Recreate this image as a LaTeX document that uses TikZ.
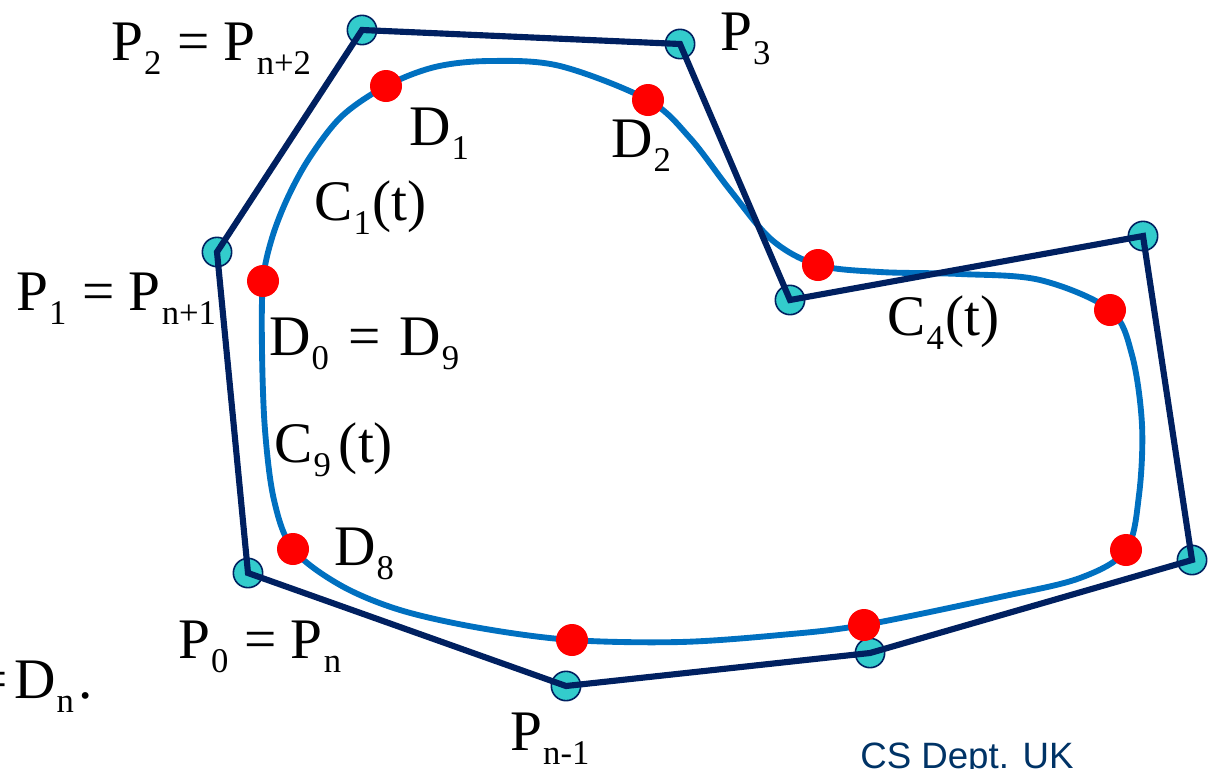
\documentclass[tikz,border=0pt]{standalone}
\usepackage{fontspec}
\setmainfont{Liberation Serif}
\newfontfamily\arialf{Liberation Sans}
\definecolor{navy}{HTML}{002060}
\definecolor{curveblue}{HTML}{0070C0}
\definecolor{cpcyan}{HTML}{33CCCC}
\definecolor{deptblue}{HTML}{003366}
\newcommand\mysb[1]{\kern0.8pt\relax\raisebox{-11pt}{\fontsize{26}{26}\selectfont #1}\kern1pt\relax}
\begin{document}
\begin{tikzpicture}[x=0.75pt,y=-0.75pt,
  cp/.style={circle,fill=cpcyan,draw=navy,line width=1.2pt,minimum size=22pt,inner sep=0pt},
  dp/.style={circle,fill=red,minimum size=24pt,inner sep=0pt},
  poly/.style={draw=navy,line width=4.6pt,line join=miter},
  crv/.style={draw=curveblue,line width=4.4pt},
  lbl/.style={anchor=base west,inner sep=0pt,font=\fontsize{43}{43}\selectfont}]
\clip (0,0) rectangle (1210,768);
\useasboundingbox (0,0) rectangle (1210,768);
% control points
\coordinate (p0) at (248,573);
\coordinate (p1) at (217,252);
\coordinate (p2) at (362,30);
\coordinate (p3) at (680,44);
\coordinate (p4) at (790,300);
\coordinate (p5) at (1143,236);
\coordinate (p6) at (1192,560);
\coordinate (p7) at (870,653);
\coordinate (p8) at (566,686);
\foreach \i in {0,...,8} {\node[cp] (c\i) at (p\i) {};}
% curve
\draw[crv] plot[smooth cycle,tension=0.55] coordinates {
 (263,281) (272,238) (288,197) (310,157) (342,116) (386,86) (435,67) (490,61) (560,66) (648,100)
 (690,138) (730,190) (772,240) (818,265) (880,272) (960,274) (1040,280) (1110,310)
 (1132,355) (1142,425) (1139,495) (1126,550) (1080,578) (1000,597) (864,625)
 (780,635) (680,642) (572,640) (480,628) (400,610) (340,585) (293,549) (274,500) (265,430) (262,350)};
% polygon
\draw[poly] (p0) -- (p1) -- (p2) -- (p3) -- (p4) -- (p5) -- (p6) -- (p7) -- (p8) -- cycle;
% D points
\foreach \n/\x/\y in {0/263/281,1/386/86,2/648/100,3/818/265,4/1110/310,5/1126/550,6/864/625,7/572/640,8/293/549}
 {\node[dp] (d\n) at (\x,\y) {};}
% labels
\node[lbl] (lp2) at (111,60) {P\mysb{2} = P\mysb{n+2}};
\node[lbl] (lp3) at (720,50) {P\mysb{3}};
\node[lbl] (ld1) at (409,145) {D\mysb{1}};
\node[lbl] (ld2) at (611,157) {D\mysb{2}};
\node[lbl] (lc1) at (314,220) {C\mysb{1}(t)};
\node[lbl] (lp1) at (16,310) {P\mysb{1} = P\mysb{n+1}};
\node[lbl] (ld0) at (269,355) {D\mysb{0}\kern3pt\relax{} =\kern3pt\relax{} D\mysb{9}};
\node[lbl] (lc4) at (887,335) {C\mysb{4}(t)};
\node[lbl] (lc9) at (274,462) {C\mysb{9}\kern5pt\relax(t)};
\node[lbl] (ld8) at (334,565) {D\mysb{8}};
\node[lbl] (lp0) at (178,658) {P\mysb{0} = P\mysb{n}};
\node[lbl] (ldn) at (-25,698) {=\kern5pt\relax D\mysb{n}\kern2pt\relax.};
\node[lbl] (lpn) at (510,750) {P\mysb{n-1}};
\node[anchor=base west,inner sep=0pt,text=deptblue,font=\arialf\fontsize{27.5}{27.5}\selectfont] (dept) at (860,768) {CS Dept. UK};
\end{tikzpicture}
\end{document}
